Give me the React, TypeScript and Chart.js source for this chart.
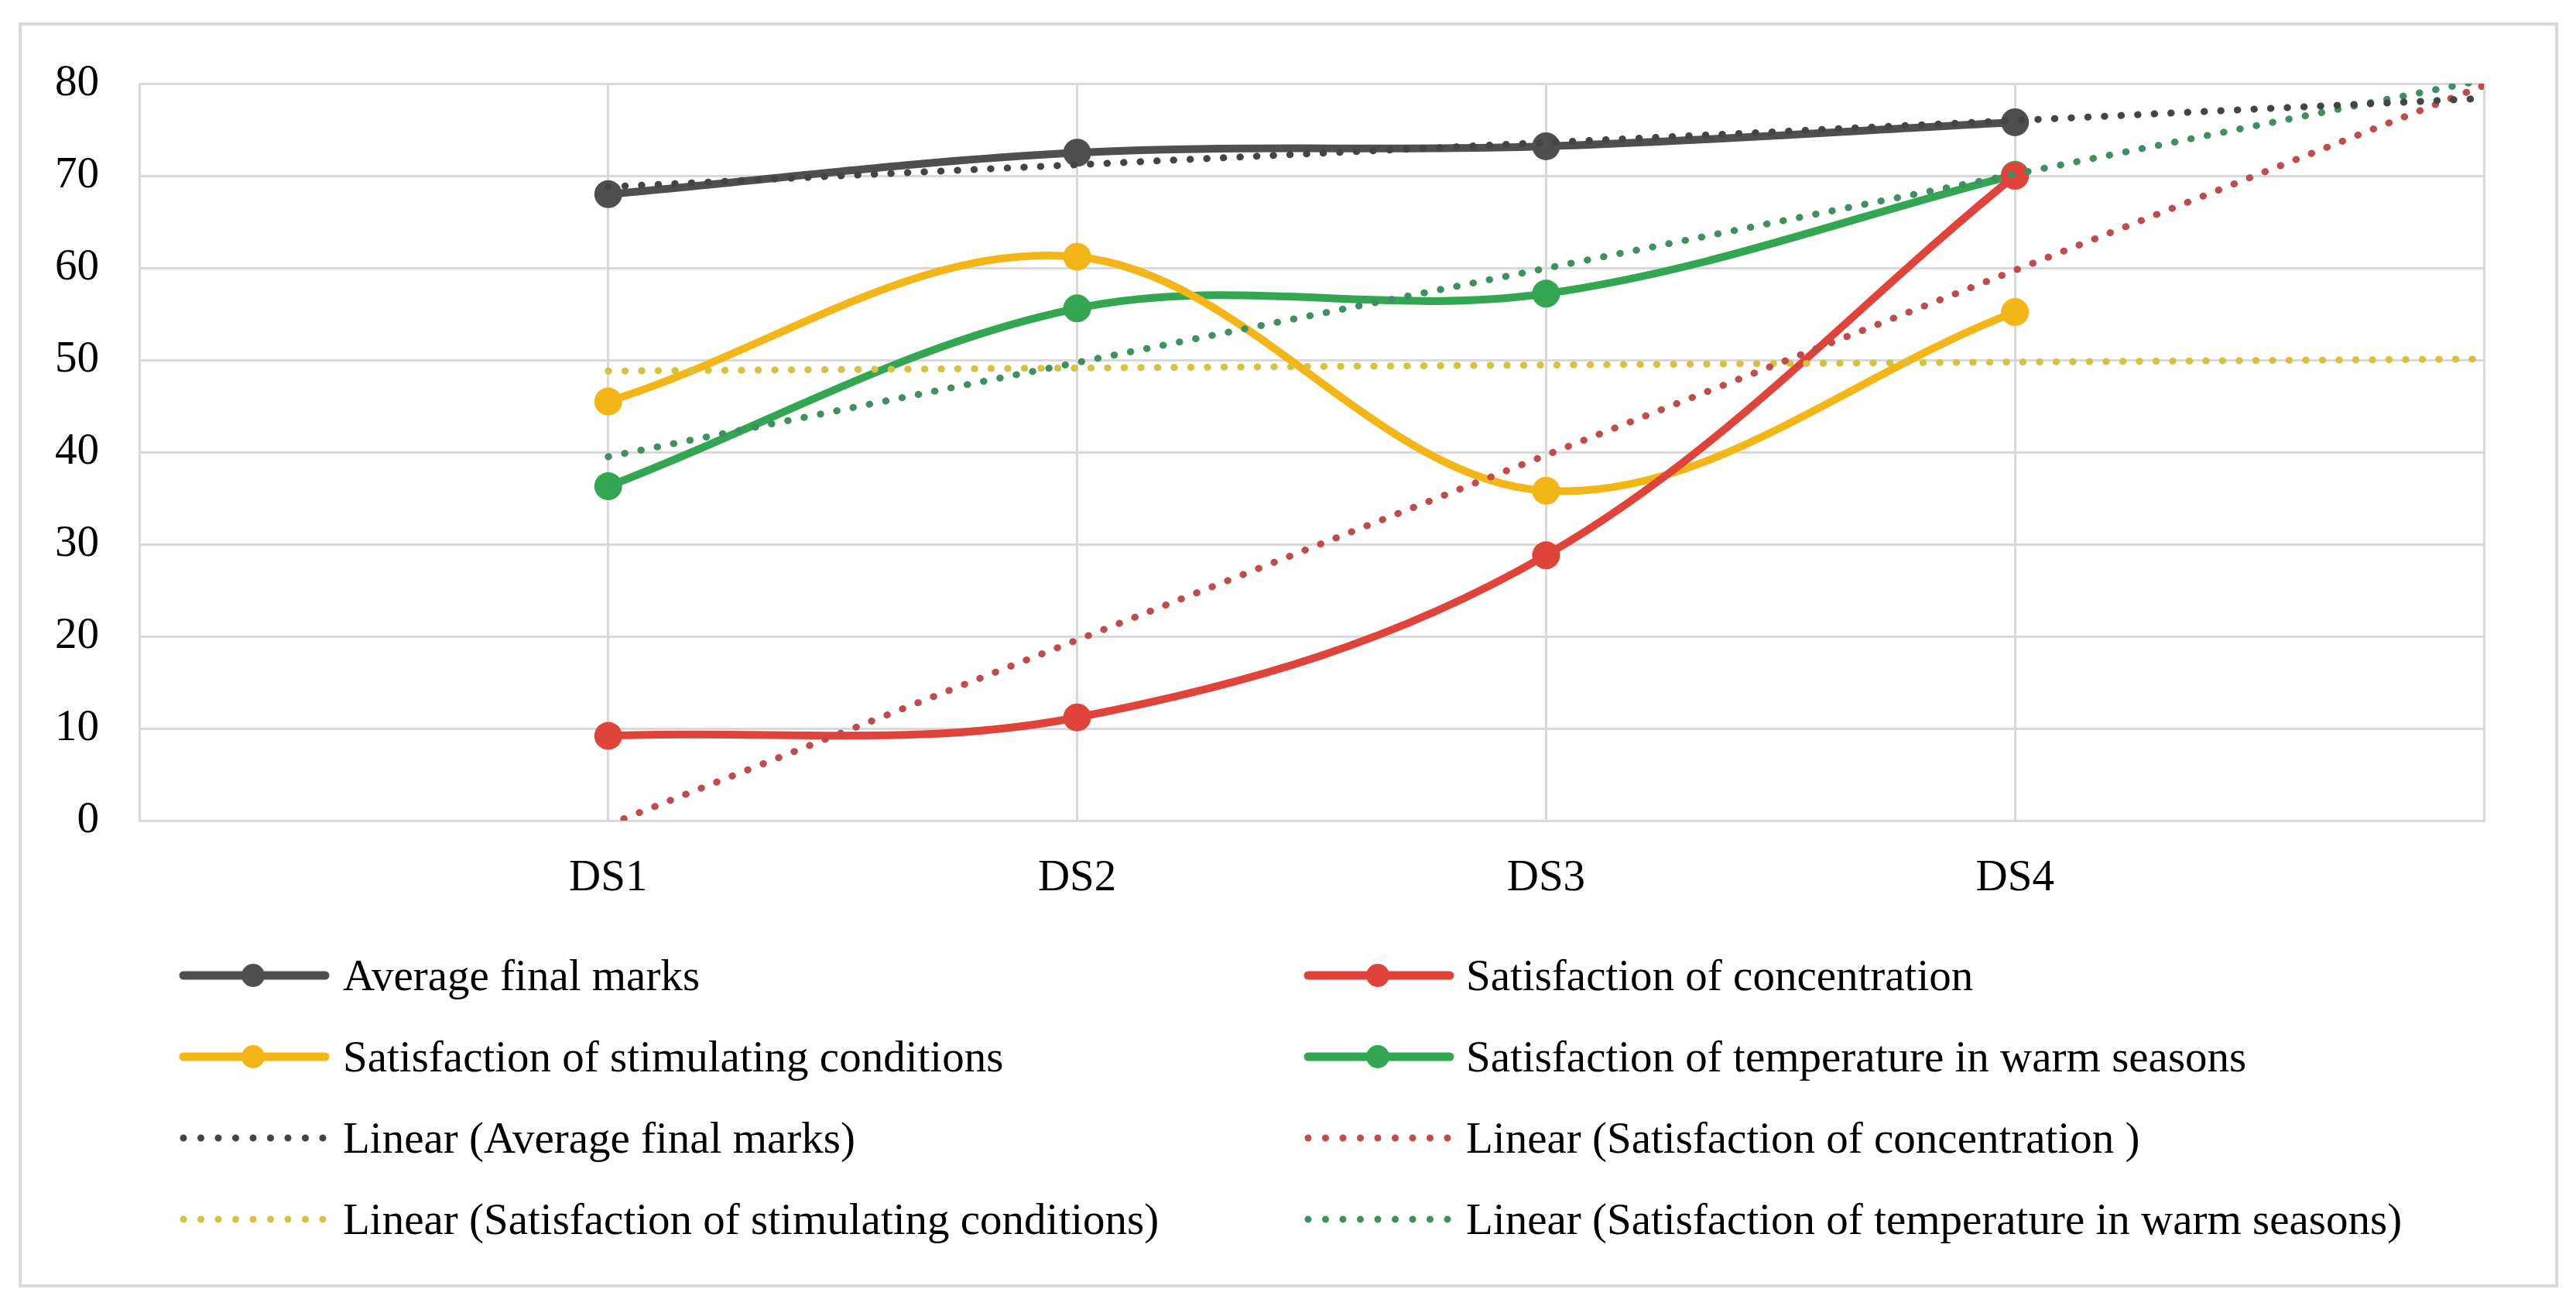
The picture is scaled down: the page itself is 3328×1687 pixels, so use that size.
import React, { useEffect, useRef } from "react";
import { Chart, registerables } from "chart.js";

Chart.register(...registerables);

const categories = ["", "DS1", "DS2", "DS3", "DS4", ""];
const averageFinalMarks = [null, 68.0, 72.5, 73.2, 75.8, null];
const concentration = [null, 9.2, 11.2, 28.8, 70.0, null];
const stimulating = [null, 45.5, 61.2, 35.8, 55.2, null];
const temperature = [null, 36.3, 55.6, 57.2, 70.1, null];

// trendline end points (first data category, one period forecast)
const trendAverage = [null, 68.8, null, null, null, 78.4];
const trendConcentration = [null, -0.46, null, null, null, 79.8];
const trendStimulating = [null, 48.8, null, null, null, 50.1];
const trendTemperature = [null, 39.5, null, null, null, 80.4];

const yTicks = [0, 10, 20, 30, 40, 50, 60, 70, 80];

const seriesNames = [
  "Average final marks",
  "Satisfaction of concentration",
  "Satisfaction of stimulating conditions",
  "Satisfaction of temperature in warm seasons",
];
const trendNames = [
  "Linear (Average final marks)",
  "Linear (Satisfaction of concentration )",
  "Linear (Satisfaction of stimulating conditions)",
  "Linear (Satisfaction of temperature in warm seasons)",
];

const COLORS = {
  gray: "#4f4f4f",
  red: "#e0433a",
  yellow: "#f4b617",
  green: "#33a652",
  grayTrend: "#444444",
  redTrend: "#bf4c4a",
  yellowTrend: "#d6c23e",
  greenTrend: "#3f9060",
};

const FONT = '"Liberation Serif", "Times New Roman", serif';

function solid(label: string, data: (number | null)[], color: string) {
  return {
    label,
    data,
    borderColor: color,
    backgroundColor: color,
    borderWidth: 10,
    pointRadius: 18,
    pointHoverRadius: 18,
    pointBackgroundColor: color,
    pointBorderColor: color,
    pointBorderWidth: 0,
    tension: 0.35,
    spanGaps: false,
    order: 2,
    clip: 0,
  };
}

function trend(label: string, data: (number | null)[], color: string) {
  return {
    label,
    data,
    borderColor: color,
    backgroundColor: color,
    borderWidth: 9,
    borderDash: [0.5, 21],
    borderCapStyle: "round" as const,
    pointRadius: 0,
    pointHoverRadius: 0,
    tension: 0,
    spanGaps: true,
    order: 1,
    clip: 0,
  };
}

type LegendItem = { name: string; color: string; dotted: boolean };

const legendLeft: LegendItem[] = [
  { name: seriesNames[0], color: COLORS.gray, dotted: false },
  { name: seriesNames[2], color: COLORS.yellow, dotted: false },
  { name: trendNames[0], color: COLORS.grayTrend, dotted: true },
  { name: trendNames[2], color: COLORS.yellowTrend, dotted: true },
];
const legendRight: LegendItem[] = [
  { name: seriesNames[1], color: COLORS.red, dotted: false },
  { name: seriesNames[3], color: COLORS.green, dotted: false },
  { name: trendNames[1], color: COLORS.redTrend, dotted: true },
  { name: trendNames[3], color: COLORS.greenTrend, dotted: true },
];

function Sample({ item }: { item: LegendItem }) {
  if (item.dotted) {
    return (
      <svg width={195} height={40} style={{ display: "block" }}>
        <line
          x1={6}
          y1={20}
          x2={188}
          y2={20}
          stroke={item.color}
          strokeWidth={9}
          strokeLinecap="round"
          strokeDasharray="0 22.5"
        />
      </svg>
    );
  }
  return (
    <svg width={195} height={40} style={{ display: "block" }}>
      <line x1={6} y1={20} x2={189} y2={20} stroke={item.color} strokeWidth={11} strokeLinecap="round" />
      <circle cx={96} cy={20} r={15} fill={item.color} />
    </svg>
  );
}

function LegendColumn({ items, sampleX, textX }: { items: LegendItem[]; sampleX: number; textX: number }) {
  const rows = [1260, 1365, 1470, 1575];
  return (
    <>
      {items.map((it, i) => (
        <React.Fragment key={it.name}>
          <div style={{ position: "absolute", left: sampleX, top: rows[i] - 20 }}>
            <Sample item={it} />
          </div>
          <div
            style={{
              position: "absolute",
              left: textX,
              top: rows[i] - 40,
              height: 80,
              lineHeight: "80px",
              fontFamily: FONT,
              fontSize: 57,
              color: "#000",
              whiteSpace: "nowrap",
            }}
          >
            {it.name}
          </div>
        </React.Fragment>
      ))}
    </>
  );
}

export default function App() {
  const canvasRef = useRef<HTMLCanvasElement | null>(null);

  useEffect(() => {
    if (!canvasRef.current) return;
    const chart = new Chart(canvasRef.current, {
      type: "line",
      data: {
        labels: categories,
        datasets: [
          trend(trendNames[0], trendAverage, COLORS.grayTrend),
          trend(trendNames[1], trendConcentration, COLORS.redTrend),
          trend(trendNames[2], trendStimulating, COLORS.yellowTrend),
          trend(trendNames[3], trendTemperature, COLORS.greenTrend),
          solid(seriesNames[0], averageFinalMarks, COLORS.gray),
          solid(seriesNames[1], concentration, COLORS.red),
          solid(seriesNames[2], stimulating, COLORS.yellow),
          solid(seriesNames[3], temperature, COLORS.green),
        ] as any,
      },
      options: {
        animation: false,
        responsive: false,
        devicePixelRatio: 1,
        layout: { padding: { top: 108, right: 119, left: 0, bottom: 0 } },
        plugins: {
          legend: { display: false },
          tooltip: { enabled: false },
        },
        scales: {
          x: {
            type: "category",
            offset: false,
            grid: { color: "#d9d9d9", lineWidth: 3, drawTicks: false },
            border: { color: "#d9d9d9", width: 3 },
            ticks: {
              autoSkip: false,
              maxRotation: 0,
              padding: 41,
              color: "#000",
              font: { family: FONT, size: 57 },
            },
            afterFit: (axis: any) => {
              axis.height = 140;
            },
          },
          y: {
            min: yTicks[0],
            max: yTicks[yTicks.length - 1],
            grid: { color: "#d9d9d9", lineWidth: 3, drawTicks: false },
            border: { color: "#d9d9d9", width: 3 },
            afterBuildTicks: (axis: any) => {
              axis.ticks = yTicks.map((v) => ({ value: v }));
            },
            ticks: {
              padding: 52,
              color: "#000",
              font: { family: FONT, size: 57 },
            },
            afterFit: (axis: any) => {
              axis.width = 180;
            },
          },
        },
      },
    });
    return () => chart.destroy();
  }, []);

  return (
    <div
      style={{
        position: "absolute",
        left: 0,
        top: 0,
        width: 3328,
        height: 1687,
        background: "#fff",
        overflow: "hidden",
      }}
    >
      <div
        style={{
          position: "absolute",
          left: 24,
          top: 29,
          width: 3305 - 24,
          height: 1663 - 29,
          border: "4px solid #d9d9d9",
          boxSizing: "border-box",
        }}
      />
      <canvas
        ref={canvasRef}
        width={3328}
        height={1200}
        style={{ position: "absolute", left: 0, top: 0, width: 3328, height: 1200 }}
      />
      <LegendColumn items={legendLeft} sampleX={231} textX={443} />
      <LegendColumn items={legendRight} sampleX={1684} textX={1894} />
    </div>
  );
}
